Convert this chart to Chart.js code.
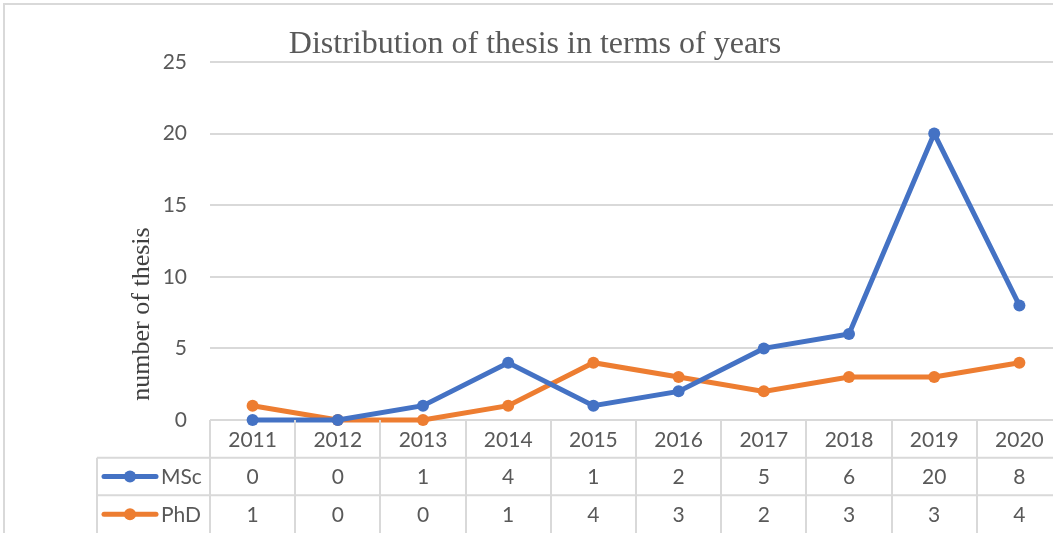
<!DOCTYPE html>
<html>
<head>
<meta charset="utf-8">
<script src="https://cdn.jsdelivr.net/npm/chart.js@4"></script>
<style>
  html, body { margin: 0; padding: 0; background: #fff; overflow: hidden; }
  #wrap { position: relative; width: 1075px; height: 533px; }
</style>
</head>
<body>
<div id="wrap"><canvas id="myChart" width="1075" height="533"></canvas></div>
<script>
// data
const years = ['2011', '2012', '2013', '2014', '2015', '2016', '2017', '2018', '2019', '2020'];
const msc = [0, 0, 1, 4, 1, 2, 5, 6, 20, 8];
const phd = [1, 0, 0, 1, 4, 3, 2, 3, 3, 4];
const yTicks = [0, 5, 10, 15, 20, 25];

const chartTitle = 'Distribution of thesis in terms of years';
const yTitle = 'number of thesis';

const BLUE = '#4472C4';
const ORANGE = '#ED7D31';
const GRID = '#d9d9d9';
const TXT = '#595959';
const SANS = 'Lato, "Open Sans", sans-serif';

// draws title, y title, outer frame and the data table under the plot
const tablePlugin = {
  id: 'dataTable',
  afterDraw(chart) {
    const ctx = chart.ctx;
    const area = chart.chartArea;
    const x = chart.scales.x;
    const step = x.getPixelForValue(1) - x.getPixelForValue(0);
    const rowH = (chart.height - area.bottom) / 3;
    const r1 = area.bottom + rowH, r2 = area.bottom + 2 * rowH;
    const legLeft = 97;

    ctx.save();
    // outer frame
    ctx.strokeStyle = GRID;
    ctx.lineWidth = 2;
    ctx.beginPath();
    ctx.moveTo(4, chart.height);
    ctx.lineTo(4, 4);
    ctx.lineTo(chart.width, 4);
    ctx.stroke();

    // table lines
    ctx.beginPath();
    for (let i = 0; i <= years.length; i++) {
      const px = Math.round(x.getPixelForValue(i) - step / 2);
      ctx.moveTo(px, area.bottom);
      ctx.lineTo(px, chart.height);
    }
    ctx.moveTo(legLeft, r1);
    ctx.lineTo(legLeft, chart.height);
    ctx.moveTo(legLeft, r1);
    ctx.lineTo(chart.width, r1);
    ctx.moveTo(legLeft, r2);
    ctx.lineTo(chart.width, r2);
    ctx.stroke();

    // table text
    ctx.fillStyle = TXT;
    ctx.font = '21px ' + SANS;
    ctx.textAlign = 'center';
    ctx.textBaseline = 'middle';
    years.forEach((y, i) => {
      const px = x.getPixelForValue(i);
      ctx.fillText(y, px, area.bottom + rowH / 2 + 1);
      ctx.fillText(String(msc[i]), px, r1 + rowH / 2 + 1);
      ctx.fillText(String(phd[i]), px, r2 + rowH / 2 + 1);
    });

    // legend keys in the table
    [[BLUE, 'MSc', r1], [ORANGE, 'PhD', r2]].forEach(([c, name, top]) => {
      const cy = top + rowH / 2;
      ctx.strokeStyle = c;
      ctx.lineWidth = 5;
      ctx.lineCap = 'round';
      ctx.beginPath();
      ctx.moveTo(104, cy);
      ctx.lineTo(156, cy);
      ctx.stroke();
      ctx.fillStyle = c;
      ctx.beginPath();
      ctx.arc(130, cy, 6, 0, Math.PI * 2);
      ctx.fill();
      ctx.fillStyle = TXT;
      ctx.textAlign = 'left';
      ctx.fillText(name, 161, cy + 1);
    });

    // chart title
    ctx.fillStyle = TXT;
    ctx.textAlign = 'center';
    ctx.textBaseline = 'middle';
    ctx.font = '32px "Liberation Serif", serif';
    ctx.fillText(chartTitle, 535, 45);

    // y axis title
    ctx.fillStyle = '#404040';
    ctx.font = '26px "Liberation Serif", serif';
    ctx.translate(142, 314);
    ctx.rotate(-Math.PI / 2);
    ctx.fillText(yTitle, 0, 0);
    ctx.restore();
  }
};

const ctx = document.getElementById('myChart').getContext('2d');
const chart = new Chart(ctx, {
  type: 'line',
  data: {
    labels: years,
    datasets: [
      { label: 'MSc', data: msc, borderColor: BLUE, backgroundColor: BLUE, clip: false,
        borderWidth: 5, pointRadius: 6, pointBackgroundColor: BLUE, pointBorderWidth: 0 },
      { label: 'PhD', data: phd, borderColor: ORANGE, backgroundColor: ORANGE, clip: false,
        borderWidth: 5, pointRadius: 6, pointBackgroundColor: ORANGE, pointBorderWidth: 0 }
    ]
  },
  options: {
    responsive: false,
    animation: false,
    layout: { padding: { left: 130, right: 13, top: 62, bottom: 113 } },
    plugins: { legend: { display: false }, tooltip: { enabled: false } },
    scales: {
      x: { display: false, offset: true },
      y: {
        min: 0, max: 25,
        afterFit: s => { s.width = 80; },
        afterBuildTicks: s => { s.ticks = yTicks.map(v => ({ value: v })); },
        border: { display: false },
        grid: { color: GRID, lineWidth: 2, drawTicks: false },
        ticks: { color: TXT, padding: 23, font: { size: 21, family: SANS } }
      }
    }
  },
  plugins: [tablePlugin]
});
</script>
</body>
</html>
